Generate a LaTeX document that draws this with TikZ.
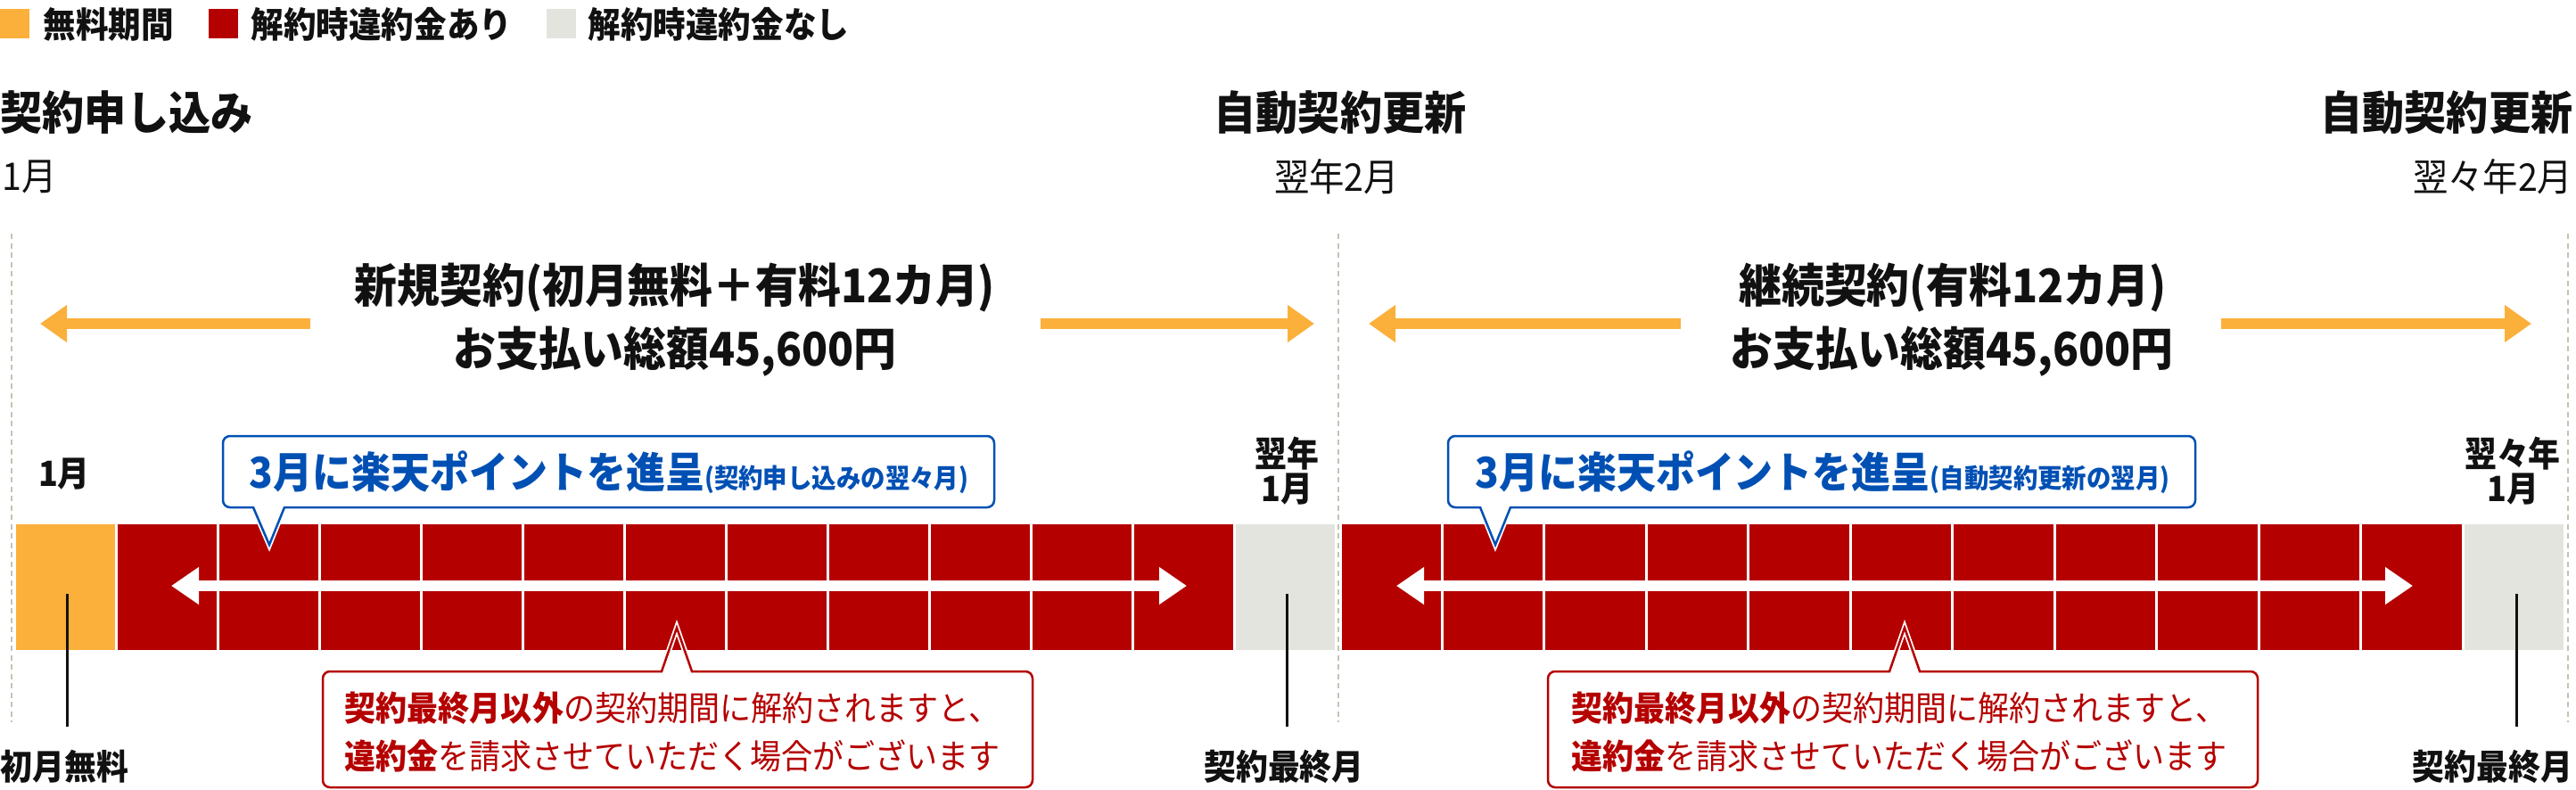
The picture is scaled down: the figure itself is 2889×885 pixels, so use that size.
\documentclass[tikz,border=0pt]{standalone}
\usepackage{fontspec}
\setmainfont{Noto Sans CJK JP}[FakeStretch=0.92]
\usetikzlibrary{arrows.meta}
\definecolor{freeorange}{HTML}{FBB03B}
\definecolor{feered}{HTML}{B50000}
\definecolor{nofeegray}{HTML}{E4E4DE}
\definecolor{pointblue}{HTML}{0050B4}
\definecolor{guidegray}{HTML}{C4C4B4}
\definecolor{inkblack}{HTML}{111111}
\tikzset{
 txt/.style={inner sep=0pt,text=inkblack,font=\fontsize{#1}{#1}\selectfont},
 btxt/.style={inner sep=0pt,text=inkblack,font=\fontsize{#1}{#1}\selectfont\bfseries},
 guide/.style={guidegray,line width=0.025cm,dash pattern=on 0.06cm off 0.045cm},
 tick/.style={inkblack,line width=0.03cm},
 bigarrow/.style={freeorange,line width=0.12cm,-{Triangle[length=0.30cm,width=0.40cm]}},
 wayarrow/.style={white,line width=0.12cm,{Triangle[length=0.31cm,width=0.40cm]}-{Triangle[length=0.31cm,width=0.40cm]}},
 bluecall/.style={draw=pointblue,line width=0.025cm,fill=white,preaction={draw=white,line width=0.06cm}},
 redcall/.style={draw=feered,line width=0.025cm,preaction={draw=white,line width=0.06cm}},
}
\begin{document}
\begin{tikzpicture}[x=0.01cm,y=-0.01cm]
\pgfmathsetmacro{\kbt}{588}
\pgfmathsetmacro{\kbb}{729}
\pgfmathsetmacro{\kcw}{114.05}
\pgfmathsetmacro{\kcx}{114.45}
\useasboundingbox(0,0)rectangle(2889,885);
\fill[freeorange](0,10)rectangle(33,43);
\node[btxt=11.3,anchor=west](legfree)at(48,27){無料期間};
\fill[feered](234,10)rectangle(267,43);
\node[btxt=11.3,anchor=west](legfee)at(281,27){解約時違約金あり};
\fill[nofeegray](613,10)rectangle(646,43);
\node[btxt=11.3,anchor=west](legnofee)at(659,27){解約時違約金なし};
\node[btxt=14.57,anchor=west](apply)at(0,126){契約申し込み};
\node[txt=12.17,anchor=west](applymonth)at(2,198){1月};
\node[btxt=14.57](renew)at(1503,126){自動契約更新};
\node[txt=12.17](renewmonth)at(1499,198){翌年2月};
\node[btxt=14.57,anchor=east](renewb)at(2886,126){自動契約更新};
\node[txt=12.17,anchor=east](renewbmonth)at(2886,198){翌々年2月};
\draw[guide](13,262)--(13,810);
\draw[guide](1501,262)--(1501,810);
\draw[guide](2880,262)--(2880,810);
\node[btxt=14.78](newplan)at(757,323){新規契約(初月無料＋有料12カ月)};
\node[btxt=14.78](newpay)at(757,394){お支払い総額45,600円};
\node[btxt=14.78](contplan)at(2190,323){継続契約(有料12カ月)};
\node[btxt=14.78](contpay)at(2189,394){お支払い総額45,600円};
\draw[bigarrow](348,363)--(45,363);
\draw[bigarrow](1167,363)--(1474,363);
\draw[bigarrow](1885,363)--(1535,363);
\draw[bigarrow](2491,363)--(2839,363);
\fill[freeorange](16+1.5,\kbt)rectangle(16+\kcw-1.5,\kbb);
\foreach \i in {1,...,11}\fill[feered](16+\i*\kcw+1.5,\kbt)rectangle(16+\i*\kcw+\kcw-1.5,\kbb);
\fill[nofeegray](16+12*\kcw+1.5,\kbt)rectangle(16+13*\kcw-1.5,\kbb);
\foreach \i in {0,...,10}\fill[feered](1503+\i*\kcx+1.5,\kbt)rectangle(1503+\i*\kcx+\kcx-1.5,\kbb);
\fill[nofeegray](1503+11*\kcx+1.5,\kbt)rectangle(1503+12*\kcx-1.5,\kbb);
\draw[wayarrow](192,657)--(1331,657);
\draw[wayarrow](1566,657)--(2706,657);
\node[btxt=11.09](mfirst)at(72,532){1月};
\node[btxt=11.09,align=center,font=\fontsize{11.09}{11.1}\selectfont\bfseries](mnext)at(1443,528){翌年\\1月};
\node[btxt=11.09,align=center,font=\fontsize{11.09}{11.1}\selectfont\bfseries](mnextb)at(2818,528){翌々年\\1月};
\coordinate(tfree)at(75,666);
\coordinate(tlast)at(1443,666);
\coordinate(tlastb)at(2822,666);
\draw[tick](tfree)--++(0,149);
\draw[tick](tlast)--++(0,149);
\draw[tick](tlastb)--++(0,149);
\node[btxt=11.09,anchor=west](freelbl)at(0,860){初月無料};
\node[btxt=11.09](endlbl)at(1440,860){契約最終月};
\node[btxt=11.09,anchor=east](endlblb)at(2886,860){契約最終月};
\draw[bluecall](302,611)--(319,569)[rounded corners=0.08cm]--(1115,569)--(1115,489)--(250,489)--(250,569)[sharp corners]--(284,569)--cycle;
\node[btxt=13.59,text=pointblue](pointa)at(683,530){3月に楽天ポイントを進呈{\fontsize{8.48}{8.48}\selectfont(契約申し込みの翌々月)}};
\draw[bluecall](1677,611)--(1694,569)[rounded corners=0.08cm]--(2462,569)--(2462,489)--(1624,489)--(1624,569)[sharp corners]--(1660,569)--cycle;
\node[btxt=13.59,text=pointblue](pointb)at(2044,530){3月に楽天ポイントを進呈{\fontsize{8.48}{8.48}\selectfont(自動契約更新の翌月)}};
\fill[white,rounded corners=0.08cm](362,753)rectangle(1158,883);
\draw[redcall](759,704)--(776,753)[rounded corners=0.08cm]--(1158,753)--(1158,883)--(362,883)--(362,753)[sharp corners]--(742,753)--cycle;
\node[txt=10.83,text=feered,align=center,font=\fontsize{10.83}{15.4}\selectfont](warna)at(754,821){\textbf{契約最終月以外}の契約期間に解約されますと、\\\textbf{違約金}を請求させていただく場合がございます};
\fill[white,rounded corners=0.08cm](1736,753)rectangle(2532,883);
\draw[redcall](2136,704)--(2153,753)[rounded corners=0.08cm]--(2532,753)--(2532,883)--(1736,883)--(1736,753)[sharp corners]--(2119,753)--cycle;
\node[txt=10.83,text=feered,align=center,font=\fontsize{10.83}{15.4}\selectfont](warnb)at(2130,821){\textbf{契約最終月以外}の契約期間に解約されますと、\\\textbf{違約金}を請求させていただく場合がございます};
\end{tikzpicture}
\end{document}
